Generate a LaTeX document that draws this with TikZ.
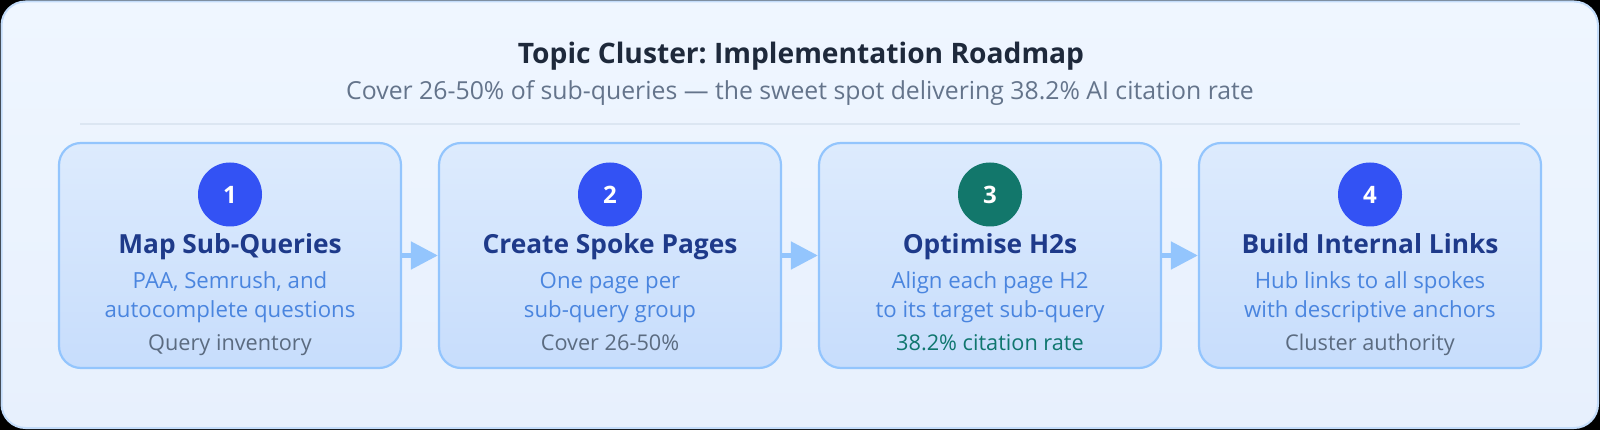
\documentclass[tikz,border=0pt]{standalone}
\usepackage{fontspec}
\setmainfont{Open Sans}
\usetikzlibrary{arrows.meta}
\frenchspacing
\definecolor{outerfill}{HTML}{EFF6FF}
\definecolor{outerfillb}{HTML}{E7F0FD}
\definecolor{outerline}{HTML}{C3DCFA}
\definecolor{sepline}{HTML}{DCE6F2}
\definecolor{boxtop}{HTML}{DDEBFD}
\definecolor{boxbot}{HTML}{C7DDFC}
\definecolor{boxline}{HTML}{93C5FD}
\definecolor{numblue}{HTML}{3352F4}
\definecolor{numteal}{HTML}{12776B}
\definecolor{headc}{HTML}{1E293B}
\definecolor{subc}{HTML}{64748B}
\definecolor{titlec}{HTML}{1E3A8A}
\definecolor{descc}{HTML}{4A85DF}
\definecolor{footc}{HTML}{5B6B80}
\definecolor{tealtext}{HTML}{0F766E}
\definecolor{arrc}{HTML}{93C5FD}
\tikzset{
  stepbox/.style={draw=boxline, line width=2.2pt, rounded corners=22pt,
    top color=boxtop, bottom color=boxbot, minimum width=342pt, minimum height=225pt, inner sep=0pt},
  numcirc/.style={circle, minimum size=64pt, inner sep=0pt, text=white,
    font=\bfseries\fontsize{24}{28}\selectfont},
  steptitle/.style={anchor=base, text=titlec, font=\bfseries\fontsize{26.3}{28}\selectfont, inner sep=0pt},
  stepdesc/.style={anchor=base, text=descc, font=\fontsize{22.2}{24}\selectfont, inner sep=0pt},
  stepfoot/.style={anchor=base, text=footc, font=\fontsize{21.7}{22}\selectfont, inner sep=0pt},
  arr/.style={draw=arrc, line width=5pt, -{Triangle[length=27pt,width=27pt]}},
}
\begin{document}
\begin{tikzpicture}[x=1pt,y=-1pt]
\useasboundingbox (0,0) rectangle (1600,430);
\fill[black] (0,0) rectangle (1600,430);
\shade[top color=outerfill, bottom color=outerfillb, draw=outerline, line width=2pt, rounded corners=24pt]
  (1.5,1.5) rectangle (1598,428);
\node[anchor=base, text=headc, font=\bfseries\fontsize{28.2}{32}\selectfont] (title) at (801,64) {Topic Cluster: Implementation Roadmap};
\node[anchor=base, text=subc, font=\fontsize{24.8}{28}\selectfont] (subtitle) at (800,100) {Cover 26-50\% of sub-queries — the sweet spot delivering 38.2\% AI citation rate};
\coordinate (sepL) at (80,124);
\coordinate (sepR) at (1520,124);
\draw[sepline, line width=2pt] (sepL) -- (sepR);
% boxes
\node[stepbox] (b1) at (230,255.5) {};
\node[stepbox] (b2) at (610,255.5) {};
\node[stepbox] (b3) at (990,255.5) {};
\node[stepbox] (b4) at (1370,255.5) {};
% circles
\node[numcirc, fill=numblue] (c1) at (230,194.5) {1};
\node[numcirc, fill=numblue] (c2) at (610,194.5) {2};
\node[numcirc, fill=numteal] (c3) at (990,194.5) {3};
\node[numcirc, fill=numblue] (c4) at (1370,194.5) {4};
% titles
\node[steptitle] (t1) at (230,254) {Map Sub-Queries};
\node[steptitle] (t2) at (610,254) {Create Spoke Pages};
\node[steptitle] (t3) at (990,254) {Optimise H2s};
\node[steptitle] (t4) at (1370,254) {Build Internal Links};
% descriptions
\node[stepdesc] (d1a) at (230,288) {PAA, Semrush, and};
\node[stepdesc] (d1b) at (230,317) {autocomplete questions};
\node[stepdesc] (d2a) at (610,288) {One page per};
\node[stepdesc] (d2b) at (610,317) {sub-query group};
\node[stepdesc] (d3a) at (990,288) {Align each page H2};
\node[stepdesc] (d3b) at (990,317) {to its target sub-query};
\node[stepdesc] (d4a) at (1370,288) {Hub links to all spokes};
\node[stepdesc] (d4b) at (1370,317) {with descriptive anchors};
% footers
\node[stepfoot] (f1) at (230,350) {Query inventory};
\node[stepfoot] (f2) at (610,350) {Cover 26-50\%};
\node[stepfoot, text=tealtext] (f3) at (990,350) {38.2\% citation rate};
\node[stepfoot] (f4) at (1370,350) {Cluster authority};
% arrows
\draw[arr] (b1.east) -- (b2.west);
\draw[arr] (b2.east) -- (b3.west);
\draw[arr] (b3.east) -- (b4.west);
\end{tikzpicture}
\end{document}
